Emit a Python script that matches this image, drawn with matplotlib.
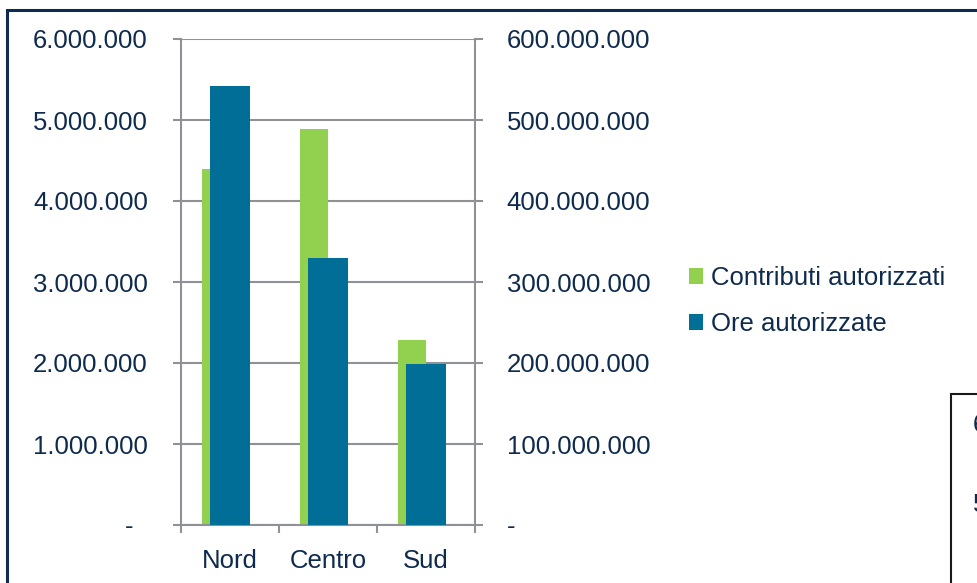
import matplotlib
matplotlib.use('Agg')
import matplotlib.pyplot as plt
from matplotlib.patches import Patch, Rectangle
from matplotlib.ticker import FixedLocator, FuncFormatter

plt.rcParams['font.family'] = ['Liberation Sans', 'DejaVu Sans']

# data
regioni = ['Nord', 'Centro', 'Sud']
contributi = [4400000, 4890000, 2280000]      # asse sinistro
ore = [542000000, 330000000, 199000000]       # asse destro
serie = ['Contributi autorizzati', 'Ore autorizzate']

verde = '#92D050'
blu = '#006E96'
testo = '#0E2A4D'
griglia = '#8E9196'

def fmt_punti(v, pos=None):
    v = int(round(v))
    if v == 0:
        return '-  '
    return f'{v:,}'.replace(',', '.')

def fmt_punti_dx(v, pos=None):
    v = int(round(v))
    if v == 0:
        return '-'
    return f'{v:,}'.replace(',', '.')

W, H = 978, 583
fig = plt.figure(figsize=(W / 100, H / 100), dpi=100)
ax = fig.add_axes([181 / W, (H - 525) / H, (475 - 181) / W, (525 - 39) / H])
ax2 = ax.twinx()

x = list(range(len(regioni)))
w_verde = 0.2857
w_blu = 0.40
ax.bar(x, contributi, width=-w_verde, align='edge', color=verde, zorder=2)
ax2.bar(x, ore, width=w_blu, color=blu, zorder=2)

ax.set_xlim(-0.5, 2.5)
ax.set_ylim(0, 6000000)
ax2.set_ylim(0, 600000000)

lw = 1.5
ax.yaxis.set_major_locator(FixedLocator([i * 1000000 for i in range(7)]))
ax2.yaxis.set_major_locator(FixedLocator([i * 100000000 for i in range(7)]))
ax.yaxis.set_major_formatter(FuncFormatter(fmt_punti))
ax2.yaxis.set_major_formatter(FuncFormatter(fmt_punti_dx))
ax.grid(axis='y', color=griglia, linewidth=lw, zorder=0)
ax.set_axisbelow(True)

ax.set_xticks([-0.5, 0.5, 1.5, 2.5])
ax.set_xticklabels([])
ax.set_xticks(x, minor=True)
ax.set_xticklabels(regioni, minor=True)
ax.tick_params(axis='x', which='major', direction='out', length=5.8, width=lw, color=griglia)
ax.tick_params(axis='x', which='minor', length=0, pad=17, labelsize=18.5, labelcolor=testo)
ax.tick_params(axis='y', direction='out', length=5.8, width=lw, color=griglia,
               pad=18, labelsize=18.5, labelcolor=testo)
ax2.tick_params(axis='y', direction='out', length=5.8, width=lw, color=griglia,
                pad=17, labelsize=18.5, labelcolor=testo)

for s in ['top', 'right']:
    ax.spines[s].set_visible(False)
for s in ['left', 'bottom']:
    ax.spines[s].set_color(griglia)
    ax.spines[s].set_linewidth(lw)
for s in ['top', 'left', 'bottom']:
    ax2.spines[s].set_visible(False)
ax2.spines['right'].set_color(griglia)
ax2.spines['right'].set_linewidth(lw)

# legenda
handles = [Patch(facecolor=verde, edgecolor='none'), Patch(facecolor=blu, edgecolor='none')]
fig.legend(handles, serie, loc='center left', bbox_to_anchor=(689 / W, (H - 301) / H),
           frameon=False, fontsize=18.5, labelcolor=testo, handlelength=0.55,
           handleheight=0.55, handletextpad=0.32, labelspacing=0.85,
           borderpad=0, borderaxespad=0)

# cornice del grafico
fig.patches.append(Rectangle((7 / W, -0.1), 1.2, (H - 10) / H + 0.1, transform=fig.transFigure,
                             fill=False, edgecolor='#0F2B52', linewidth=2.2))
# riquadro del grafico vicino (tagliato come nell'originale)
fig.patches.append(Rectangle((951 / W, -0.1), 0.2, (H - 394) / H + 0.1, transform=fig.transFigure,
                             facecolor='white', edgecolor='#1a1a1a', linewidth=1.5))
fig.text(973 / W, (H - 425) / H, '6', fontsize=18.5, color=testo, va='center')
fig.text(973 / W, (H - 505) / H, '5', fontsize=18.5, color=testo, va='center')

fig.savefig('out.png', dpi=100)
